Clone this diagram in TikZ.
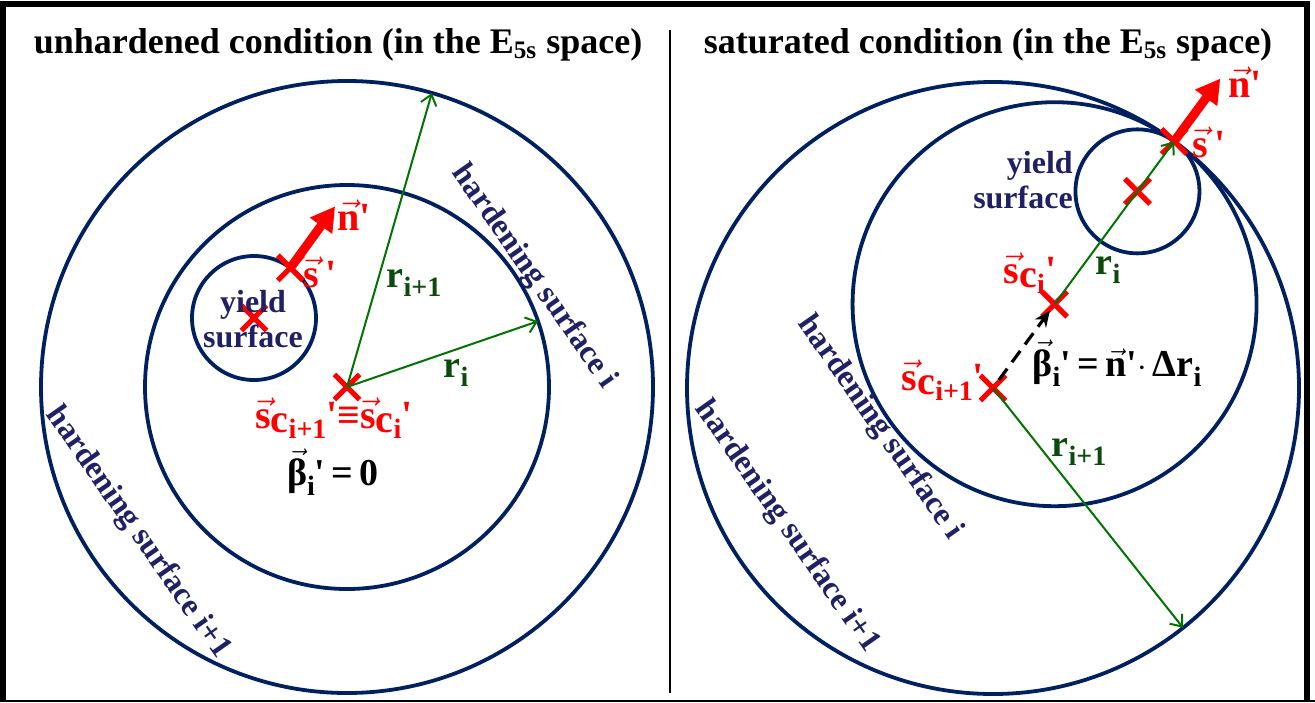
\documentclass[tikz,border=0pt]{standalone}
\usepackage{amsmath}
\usepackage{fontspec}
\setmainfont{Liberation Serif}
\usepackage{tikz}
\usetikzlibrary{arrows.meta,calc,positioning,shapes.misc}

\definecolor{surfnavy}{RGB}{0,32,96}
\definecolor{textnavy}{RGB}{32,32,100}
\definecolor{radgreen}{RGB}{0,115,0}
\definecolor{labgreen}{RGB}{10,75,10}

\newcommand{\vecs}{$\vec{\mbox{s}}$}
\newcommand{\vecn}{$\vec{\mbox{n}}$}
\newcommand{\vecb}{$\vec{\mbox{β}}$}
\newcommand{\lowsub}[1]{\raisebox{-0.55ex}{\fontsize{14}{14}\selectfont #1}}
\newcommand{\subc}{\raisebox{-0.25ex}{c}}
\newcommand{\prm}{\textquotesingle}

\begin{document}
\begin{tikzpicture}[
    x=0.5pt, y=-0.5pt,
    every node/.style={font=\bfseries, inner sep=1pt},
    surf/.style={draw=surfnavy, line width=1.9pt},
    radius arrow/.style={
        draw=radgreen,
        line width=1pt,
        -{Straight Barb[length=5pt,width=8pt]}
    },
    redx/.style={
        cross out,
        draw=red,
        line width=2.6pt,
        minimum size=10pt,
        inner sep=0pt
    },
    redlbl/.style={text=red, font=\bfseries\fontsize{20}{22}\selectfont},
    grnlbl/.style={text=labgreen, font=\bfseries\fontsize{19}{21}\selectfont},
    blklbl/.style={font=\bfseries\fontsize{19}{21}\selectfont},
    yieldlbl/.style={text=textnavy, font=\bfseries\fontsize{16}{17.5}\selectfont},
    surflbl/.style={text=textnavy, font=\bfseries\fontsize{16}{18}\selectfont, rotate=-55},
    paneltitle/.style={font=\bfseries\fontsize{18}{20}\selectfont}
]

\useasboundingbox (0,0) rectangle (1315,702);

\draw[line width=3pt] (3,700) -- (3,3.5) -- (1307,3.5) -- (1307,700);
\draw[line width=1pt] (0,700.5) -- (1315,700.5);
\draw[line width=1pt] (670,30) -- (670,693);

\node[paneltitle] (titleL) at (338,45) {unhardened condition (in the E\textsubscript{5s} space)};
\node[paneltitle] (titleR) at (988,45) {saturated condition (in the E\textsubscript{5s} space)};

% unhardened
\coordinate (cL) at (347,387);
\coordinate (yL) at (254,318);
\draw[surf] (cL) circle[radius=153pt];
\draw[surf] (cL) circle[radius=101pt];
\draw[surf] (yL) circle[radius=31pt];

\coordinate (r1tipL) at ($(cL)+(73.9:153pt)$);
\coordinate (r0tipL) at ($(cL)+(19:101pt)$);
\coordinate (ntipL) at ($(yL)+(54:69pt)$);

\node[redx] (scL) at (cL) {};
\node[redx] (ycL) at (yL) {};
\node[redx] (spL) at ($(yL)+(54:31pt)$) {};

\draw[radius arrow] (scL.center) -- (r1tipL);
\draw[radius arrow] (scL.center) -- (r0tipL);
\draw[red, line width=4.5pt, -{Triangle[length=12pt,width=13pt]}] (spL.center) -- (ntipL);

\node[yieldlbl, align=center] (yieldL) at (253,319) {yield\\surface};
\node[surflbl] (hsiL) at (534,277) {hardening surface i};
\node[surflbl] (hsi1L) at (138,533) {hardening surface i+1};

\node[redlbl] (nlabL) at (354,215) {\vecn\prm};
\node[redlbl] (slabL) at (320,272) {\vecs\,\prm};
\node[redlbl] (sclabL) at (334,418) {\vecs\subc\lowsub{i+1}\prm≡\vecs\subc\lowsub{i}\prm};
\node[blklbl] (betaL) at (333,472) {\vecb\lowsub{i}\prm\,=\,0};
\node[grnlbl] (r1labL) at (414,283) {r\lowsub{i+1}};
\node[grnlbl] (r0labL) at (456,373) {r\lowsub{i}};

% saturated
\coordinate (cR) at (993,388);
\coordinate (ciR) at ($(cR)+(53.7:52pt)$);
\coordinate (yR) at ($(cR)+(53.7:122pt)$);
\draw[surf] (cR) circle[radius=153pt];
\draw[surf] (ciR) circle[radius=101pt];
\draw[surf] (yR) circle[radius=31pt];

\coordinate (r1tipR) at ($(cR)+(-51.6:153pt)$);
\coordinate (ntipR) at ($(cR)+(53.7:192pt)$);

\node[redx] (scR1) at (cR) {};
\node[redx] (scR0) at (ciR) {};
\node[redx] (ycR) at (yR) {};
\node[redx] (spR) at ($(cR)+(53.7:153pt)$) {};

\draw[radius arrow] (scR0.center) -- (spR.center);
\draw[radius arrow] (scR1.center) -- (r1tipR);
\draw[line width=1.6pt, dash pattern=on 7pt off 4pt, shorten <=5pt, shorten >=4pt,
    -{Stealth[length=8pt,width=7pt]}] (scR1.center) -- (scR0.center);
\draw[red, line width=4.5pt, -{Triangle[length=12pt,width=13pt]}] (spR.center) -- (ntipR);

\node[yieldlbl, align=right] (yieldR) at (1023,180) {yield\\surface};
\node[surflbl] (hsiR) at (880,428) {hardening surface i};
\node[surflbl] (hsi1R) at (787,527) {hardening surface i+1};

\node[redlbl] (nlabR) at (1245,82) {\vecn\prm};
\node[redlbl] (slabR) at (1209,142) {\vecs\,\prm};
\node[redlbl] (scilabR) at (1030,273) {\vecs\subc\lowsub{i}\prm};
\node[redlbl] (sci1labR) at (943,380) {\vecs\subc\lowsub{i+1}\prm};
\node[blklbl] (betaR) at (1117,363) {\vecb\lowsub{i}\prm\,=\,\vecn\prm$\cdot$\,Δr\lowsub{i}};
\node[grnlbl] (r0labR) at (1108,270) {r\lowsub{i}};
\node[grnlbl] (r1labR) at (1079,452) {r\lowsub{i+1}};

\end{tikzpicture}
\end{document}
